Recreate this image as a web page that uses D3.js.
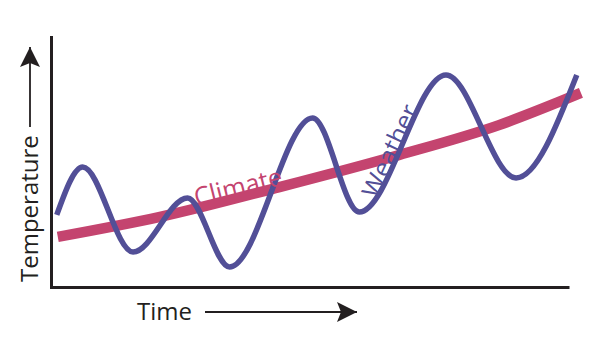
<!DOCTYPE html>
<html><head><meta charset="utf-8">
<script src="https://cdn.jsdelivr.net/npm/d3@7"></script>
<style>body{margin:0;background:#fff}svg{display:block}text{font-family:"Open Sans",sans-serif}</style>
</head><body><svg id="c" width="600" height="359"></svg>
<script>
// Data (arbitrary units: time 0-100, temperature 0-100)
const weatherTime = [1.3, 6.3, 16.0, 26.5, 34.6, 50.6, 59.6, 76.3, 89.8, 101.5];
const weatherTemp = [28.5, 47.4, 13.8, 35.2, 7.9, 66.8, 29.6, 83.8, 43.1, 83.8];
const climateTime = [1.5, 21.2, 44.2, 67.3, 86.5, 102.3];
const climateTemp = [19.8, 27.7, 39.5, 52.2, 64.0, 76.7];
const labels = {x: "Time", y: "Temperature", climate: "Climate", weather: "Weather"};

const svg = d3.select("#c");
const x = d3.scaleLinear().domain([0, 100]).range([50, 569]);
const y = d3.scaleLinear().domain([0, 100]).range([287, 34]);
const pink = "#c4446f", purple = "#524f97", ink = "#231f20";

const line = d3.line().x(d => x(d[0])).y(d => y(d[1])).curve(d3.curveMonotoneX);

// climate band
svg.append("path").datum(climateTime.map((t, i) => [t, climateTemp[i]]))
  .attr("d", line).attr("fill", "none").attr("stroke", pink).attr("stroke-width", 10.5);
// weather line
svg.append("path").datum(weatherTime.map((t, i) => [t, weatherTemp[i]]))
  .attr("d", line).attr("fill", "none").attr("stroke", purple).attr("stroke-width", 5.5);

// axes
const ax = svg.append("g").attr("transform", "translate(0,287)")
  .call(d3.axisBottom(x).ticks(0).tickSizeOuter(0));
const ay = svg.append("g").attr("transform", "translate(51,0)")
  .call(d3.axisLeft(y).ticks(0).tickSizeOuter(0));
[ax, ay].forEach(g => g.select(".domain").attr("stroke", ink).attr("stroke-width", 3));
ay.select(".domain").attr("transform", "translate(0,1.5)");

// arrow marker
const defs = svg.append("defs");
defs.append("marker").attr("id", "ah").attr("viewBox", "0 0 20 20").attr("refX", 20).attr("refY", 10)
  .attr("markerWidth", 20).attr("markerHeight", 20).attr("markerUnits", "userSpaceOnUse").attr("orient", "auto")
  .append("path").attr("d", "M0,0 L20,10 L0,20 L4,10 Z").attr("fill", ink);

// Time label
svg.append("text").attr("x", 137).attr("y", 320).attr("font-size", 24).attr("fill", ink).text(labels.x);
svg.append("line").attr("x1", 205).attr("y1", 312).attr("x2", 357).attr("y2", 312)
  .attr("stroke", ink).attr("stroke-width", 1.8).attr("marker-end", "url(#ah)");

// Temperature label
svg.append("text").attr("transform", "translate(38,282) rotate(-90)").attr("font-size", 24).attr("fill", ink).text(labels.y);
svg.append("line").attr("x1", 30).attr("y1", 127).attr("x2", 30).attr("y2", 47)
  .attr("stroke", ink).attr("stroke-width", 1.8).attr("marker-end", "url(#ah)");

// series labels
svg.append("text").attr("transform", "translate(238,187) rotate(-14)").attr("text-anchor", "middle")
  .attr("dy", "0.35em").attr("font-size", 25.5).attr("fill", pink).text(labels.climate);
svg.append("text").attr("transform", "translate(390,151) rotate(-65)").attr("text-anchor", "middle")
  .attr("dy", "0.35em").attr("font-size", 25).attr("fill", purple).text(labels.weather);
</script></body></html>
